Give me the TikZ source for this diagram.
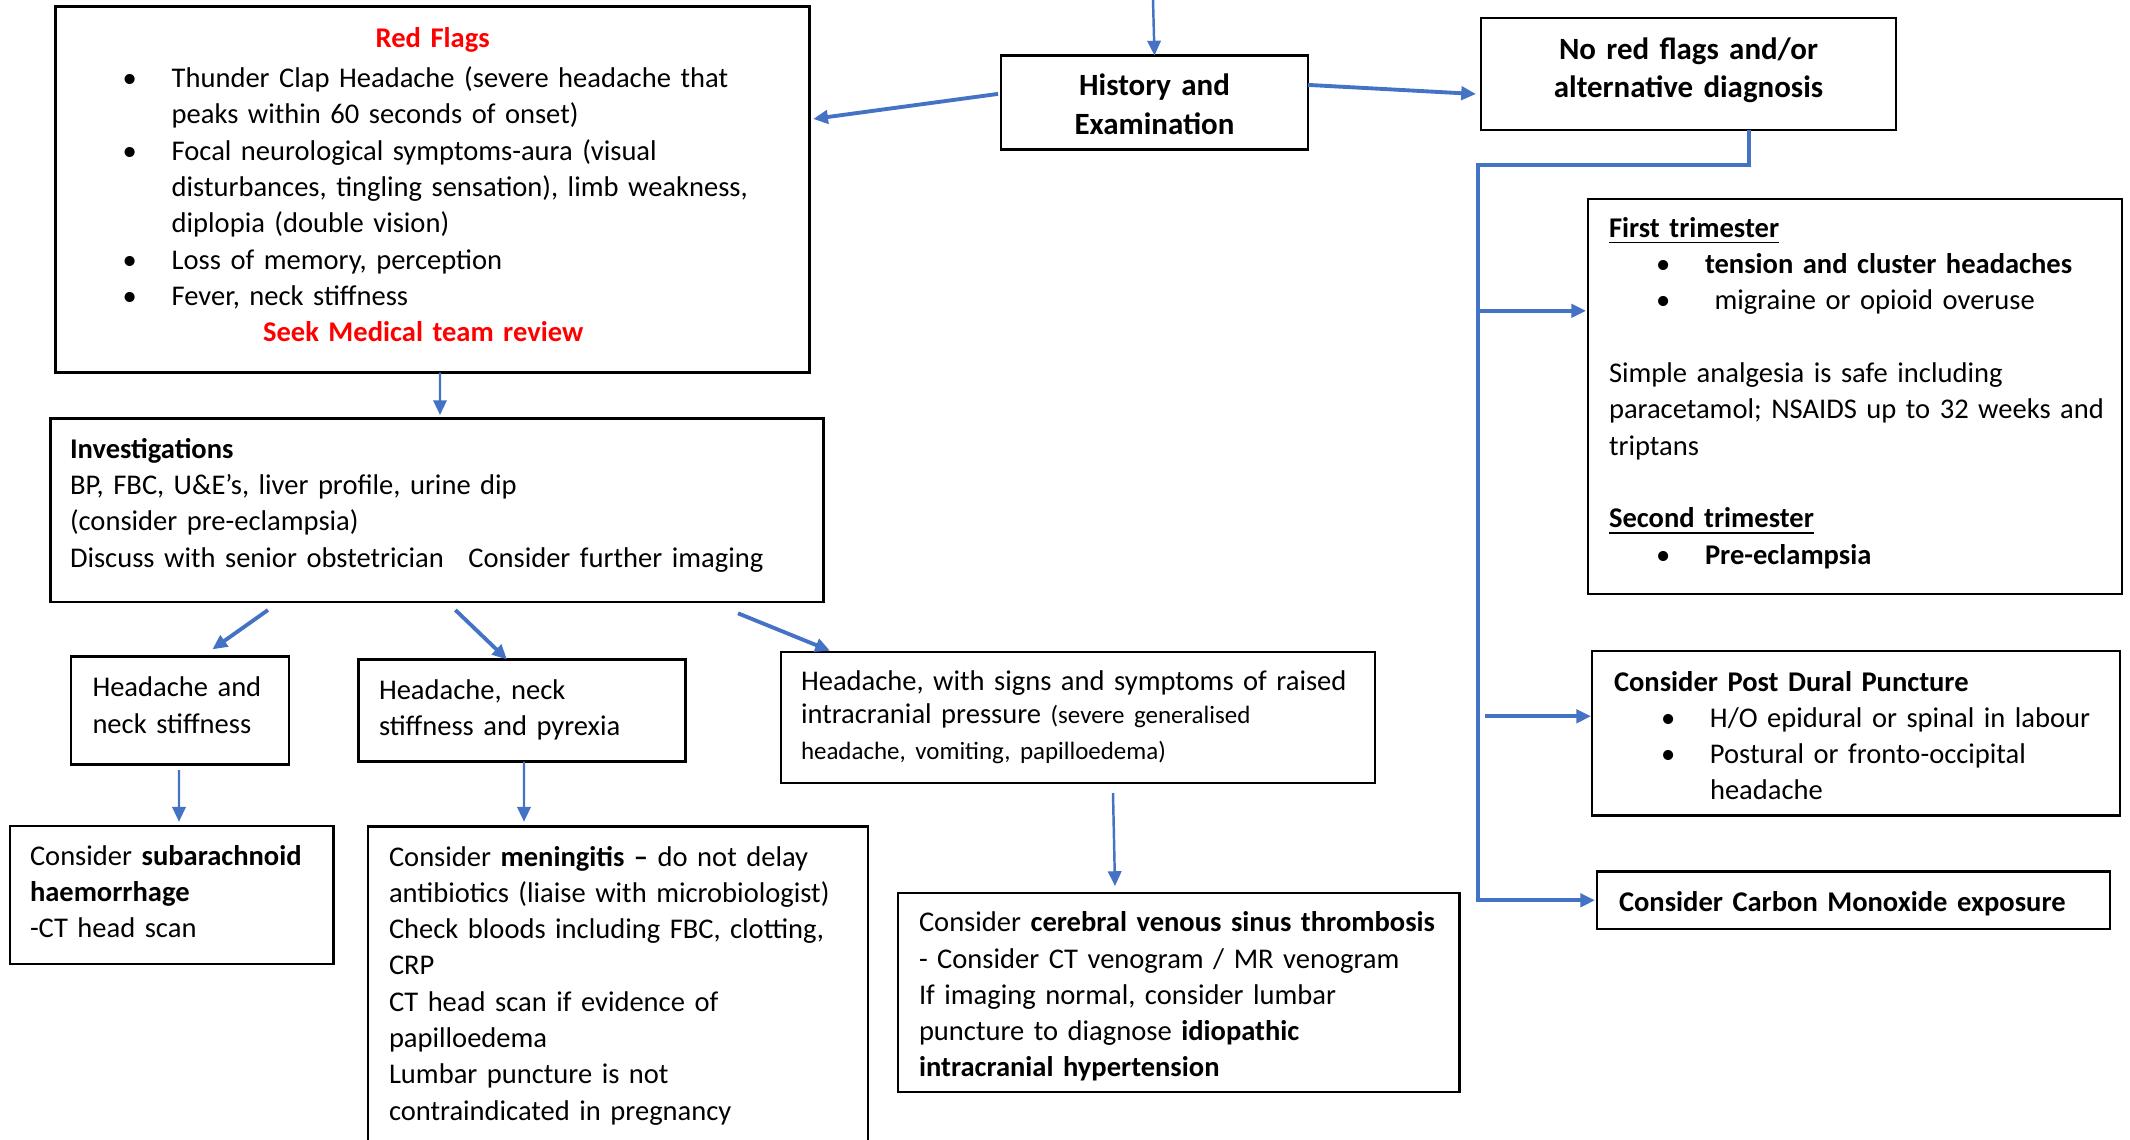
\documentclass[tikz,border=0pt]{standalone}
\usepackage{fontspec}
\setmainfont{Carlito}
\usepackage{tikz}
\usetikzlibrary{arrows.meta}
\definecolor{flowblue}{HTML}{4472C4}
\definecolor{flagred}{HTML}{FF0000}
\newcommand{\bpoint}[1]{\par\hangindent=0.96cm\hangafter=1\noindent\hspace*{0.47cm}\makebox[0.49cm][l]{\textbullet}#1\par}

\begin{document}
\begin{tikzpicture}[
  box/.style={draw=black, line width=0.8pt, anchor=north west, inner xsep=0.2cm, inner ysep=0pt, outer sep=0pt,
    font=\fontsize{8.12}{10.33}\selectfont, execute at begin node={\raggedright\hyphenpenalty=10000}},
  headbox/.style={box, inner xsep=0.1cm, font=\fontsize{8.8}{11}\selectfont\bfseries, execute at begin node={\centering}},
  arr/.style={draw=flowblue, line width=1.1pt, -{Triangle[length=4.2pt,width=3.8pt]}},
  thinarr/.style={arr, line width=0.7pt},
  ]
  \useasboundingbox (0,0) rectangle (21.3,-11.39);
  \clip (0,0) rectangle (21.3,-11.39);

  % left column
  \node[box, text width=7.14cm, text height=0.409cm, text depth=3.25cm] (red) at (0.557,-0.068) {%
    {\centering\textbf{\textcolor{flagred}{Red Flags}}\par}\vspace{1pt}
    \bpoint{Thunder Clap Headache (severe headache that\newline peaks within 60 seconds of onset)}
    \bpoint{Focal neurological symptoms-aura (visual\newline disturbances, tingling sensation), limb weakness,\newline diplopia (double vision)}
    \bpoint{Loss of memory, perception}
    \bpoint{Fever, neck stiffness}
    {\centering\hspace*{-0.19cm}\textbf{\textcolor{flagred}{Seek Medical team review}}\par}};
  \node[headbox, text width=2.87cm, text height=0.40cm, text depth=0.538cm] (hist) at (10.01,-0.555) {History and\\ Examination};
  \node[headbox, text width=3.95cm, text height=0.413cm, text depth=0.707cm] (nored) at (14.81,-0.18) {No red flags and/or\\ alternative diagnosis};
  \node[box, inner xsep=0.195cm, text width=7.34cm, text height=0.398cm, text depth=1.437cm] (inv) at (0.505,-4.185) {%
    \textbf{Investigations}\\ BP, FBC, U\&E’s, liver profile, urine dip\\ (consider pre-eclampsia)\\ Discuss with senior obstetrician\hspace{0.15cm} Consider further imaging};

  \node[box, inner xsep=0.215cm, text width=1.75cm, text height=0.402cm, text depth=0.678cm] (hdn) at (0.71,-6.565) {Headache and\\ neck stiffness};
  \node[box, inner xsep=0.205cm, text width=2.86cm, text height=0.398cm, text depth=0.622cm] (pyr) at (3.585,-6.595) {Headache, neck\\ stiffness and pyrexia};
  \node[box, text width=5.54cm, text height=0.38cm, text depth=0.93cm] (icp) at (7.81,-6.52) {%
    Headache, with signs and symptoms of raised\\ intracranial pressure {\fontsize{7.1}{9.5}\selectfont (severe generalised\\ headache, vomiting, papilloedema)}};

  \node[box, text width=2.835cm, text height=0.39cm, text depth=0.99cm] (sub) at (0.10,-8.26) {%
    Consider \textbf{subarachnoid}\\ \textbf{haemorrhage}\\ -CT head scan};
  \node[box, inner xsep=0.21cm, text width=4.58cm, text height=0.393cm, text depth=3.0cm] (men) at (3.68,-8.267) {%
    Consider \textbf{meningitis –} do not delay\\ antibiotics (liaise with microbiologist)\\ Check bloods including FBC, clotting,\\ CRP\\ CT head scan if evidence of\\ papilloedema\\ Lumbar puncture is not\\ contraindicated in pregnancy};
  \node[box, inner xsep=0.21cm, text width=5.195cm, text height=0.387cm, text depth=1.603cm] (cv) at (8.98,-8.93) {%
    Consider \textbf{cerebral venous sinus thrombosis}\\ - Consider CT venogram / MR venogram\\ If imaging normal, consider lumbar\\ puncture to diagnose \textbf{idiopathic}\\ \textbf{intracranial hypertension}};

  % right column
  \node[box, inner xsep=0.21cm, text width=4.92cm, text height=0.383cm, text depth=3.567cm] (ft) at (15.88,-1.99) {%
    \textbf{\underline{First trimester}}\par
    \bpoint{\textbf{tension and cluster headaches}}
    \bpoint{\ migraine or opioid overuse}
    \vspace{\baselineskip}
    Simple analgesia is safe including\\ \mbox{paracetamol; NSAIDS up to 32 weeks and}\\ triptans\par
    \vspace{\baselineskip}
    \textbf{\underline{Second trimester}}\par
    \bpoint{\textbf{Pre-eclampsia}}};
  \node[box, inner xsep=0.22cm, text width=4.84cm, text height=0.40cm, text depth=1.245cm] (pd) at (15.92,-6.51) {%
    \textbf{Consider Post Dural Puncture}\par
    \bpoint{H/O epidural or spinal in labour}
    \bpoint{Postural or fronto-occipital\newline headache}};
  \node[box, inner xsep=0.22cm, text width=4.69cm, text height=0.396cm, text depth=0.179cm] (co) at (15.97,-8.715) {\textbf{Consider Carbon Monoxide exposure}};

  % connectors
  \coordinate (entry) at (11.53,0);
  \draw[thinarr] (entry) -- (hist.north);
  \draw[arr] ([shift={(-0.03,0.085)}]hist.west) -- ([shift={(0.035,0.708)}]red.east);
  \draw[arr] ([yshift=1.75mm]hist.east) -- ([shift={(-0.05,-0.2)}]nored.west);
  \draw[thinarr] ([xshift=0.73mm]red.south) -- ([shift={(0.03,0.035)}]inv.north);
  \draw[arr] ([shift={(-1.69,-0.08)}]inv.south) -- ([shift={(0.324,0.072)}]hdn.north);
  \draw[arr] ([shift={(0.184,-0.08)}]inv.south) -- ([shift={(-0.15,0)}]pyr.north);
  \draw[arr] ([shift={(3.01,-0.113)}]inv.south) -- ([shift={(0.49,0.013)}]icp.north west);
  \draw[thinarr] ([shift={(-0.01,-0.055)}]hdn.south) -- ([shift={(0.0725,0.043)}]sub.north);
  \draw[thinarr] ([xshift=0.2mm]pyr.south) -- ([shift={(1.56,0.05)}]men.north west);
  \draw[thinarr] ([shift={(0.35,-0.1)}]icp.south) -- ([shift={(-0.6375,0.07)}]cv.north);

  \coordinate (bend) at (14.78,-1.653);
  \draw[arr] ([xshift=6.05mm]nored.south) |- (bend) |- ([xshift=-0.2mm]co.west);
  \coordinate (ftin) at ([yshift=8.57mm]ft.west);
  \draw[arr] (bend |- ftin) -- ([xshift=-0.2mm]ftin);
  \coordinate (pdin) at ([yshift=1.7mm]pd.west);
  \coordinate (pdout) at (bend |- pdin);
  \draw[arr] ([xshift=0.7mm]pdout) -- ([xshift=-0.1mm]pdin);
\end{tikzpicture}
\end{document}
